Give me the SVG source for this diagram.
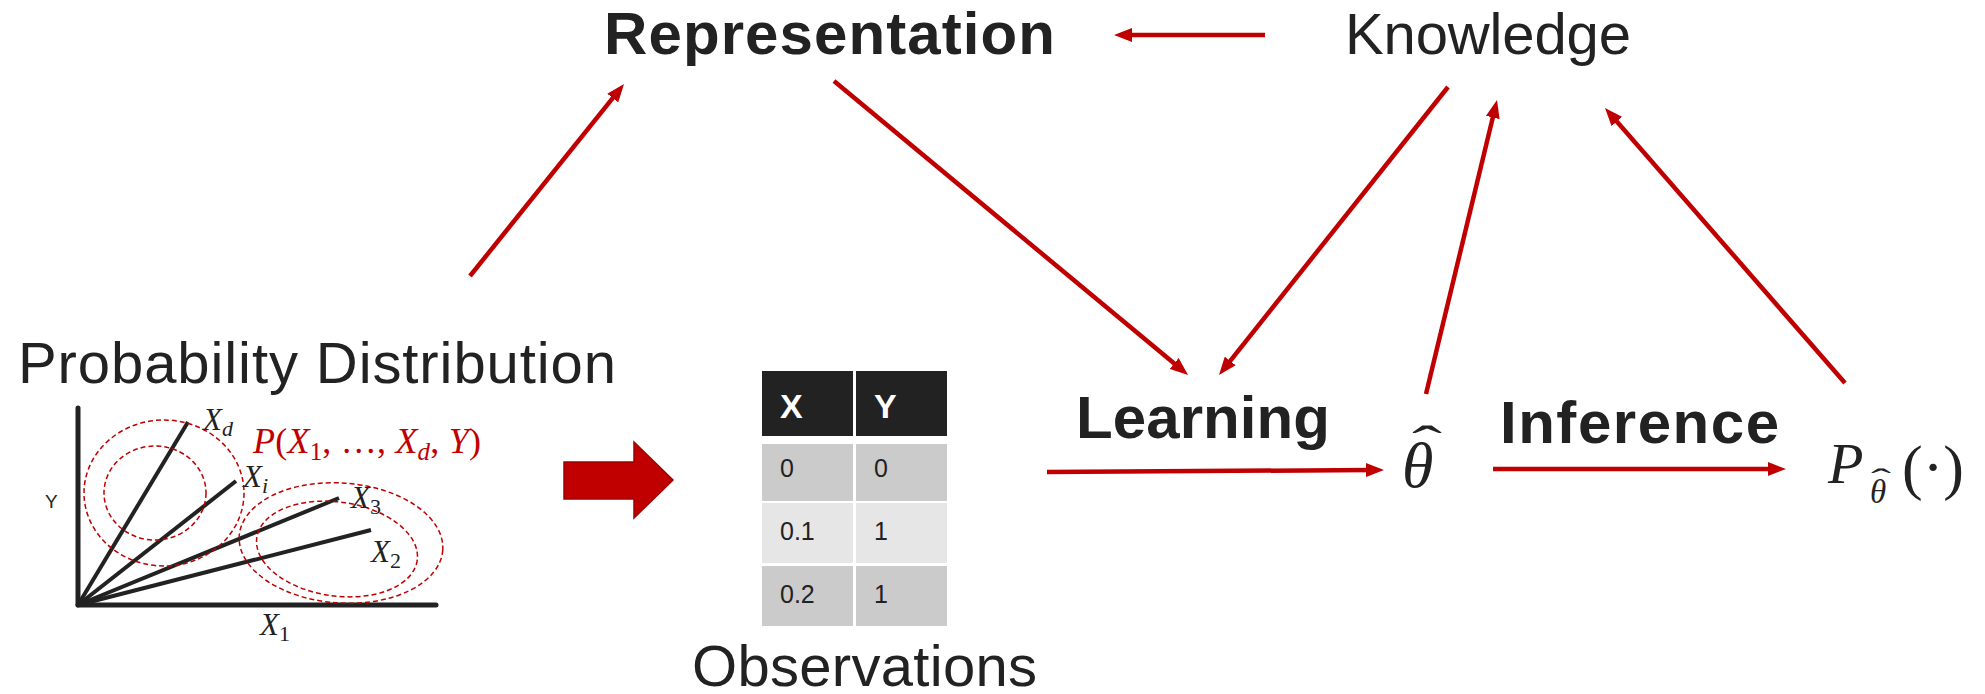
<svg xmlns="http://www.w3.org/2000/svg" width="1985" height="694" viewBox="0 0 1985 694">
<defs>
<style>
.lbl{font-family:"Liberation Sans","DejaVu Sans",sans-serif;fill:#222222}
.reg{font-size:58px}
.light{font-size:58px;font-weight:300}
.bold{font-size:60px;font-weight:bold}
.math{font-family:"Liberation Serif","DejaVu Serif",serif;font-style:italic;fill:#222222}
.up{font-style:normal}
.red{fill:#c00000}
.conn{stroke:#c00000;stroke-width:4.5;fill:none;marker-end:url(#ah)}
.axis{stroke:#222222;stroke-width:5;fill:none;stroke-linecap:round}
.ray{stroke:#222222;stroke-width:4;fill:none}
.dash{stroke:#c00000;stroke-width:1.5;fill:none;stroke-dasharray:5 3}
.cell{font-family:"Liberation Sans","DejaVu Sans",sans-serif;font-size:25px;fill:#222222}
.hdr{font-family:"Liberation Sans","DejaVu Sans",sans-serif;font-size:34px;font-weight:bold;fill:#ffffff}
</style>
<marker id="ah" markerUnits="userSpaceOnUse" markerWidth="18" markerHeight="14" refX="6" refY="7" orient="auto">
<path d="M0,0 L18,7 L0,14 z" fill="#c00000"/>
</marker>
</defs>

<g id="connectors">
<line class="conn" x1="470" y1="276" x2="616.5" y2="93.4"/>
<line class="conn" x1="834" y1="81" x2="1178.8" y2="367.3"/>
<line class="conn" x1="1448" y1="87" x2="1226.5" y2="365.6"/>
<line class="conn" x1="1426" y1="394" x2="1494.2" y2="111.7"/>
<line class="conn" x1="1845" y1="383" x2="1612.9" y2="117"/>
<line class="conn" x1="1265" y1="35" x2="1126" y2="35"/>
<line class="conn" x1="1047" y1="472" x2="1372" y2="470"/>
<line class="conn" x1="1493" y1="469" x2="1774" y2="469"/>
</g>

<g id="representation">
<text class="lbl bold" x="604" y="54" textLength="451">Representation</text>
</g>

<g id="knowledge">
<text class="lbl light" x="1345" y="54" textLength="286">Knowledge</text>
</g>

<g id="probability-distribution">
<text class="lbl reg" x="18" y="383" textLength="598">Probability Distribution</text>
<line class="axis" x1="78" y1="408" x2="78" y2="605"/>
<line class="axis" x1="78" y1="605" x2="436" y2="605"/>
<line class="ray" x1="78" y1="605" x2="188" y2="422"/>
<line class="ray" x1="78" y1="605" x2="236" y2="481"/>
<line class="ray" x1="78" y1="605" x2="339" y2="498"/>
<line class="ray" x1="78" y1="605" x2="371" y2="530"/>
<ellipse class="dash" cx="164" cy="493" rx="80" ry="73"/>
<ellipse class="dash" cx="155" cy="493" rx="51" ry="47"/>
<ellipse class="dash" cx="341" cy="543" rx="102" ry="60" transform="rotate(4 341 543)"/>
<ellipse class="dash" cx="337" cy="549" rx="81" ry="47" transform="rotate(8 337 549)"/>
<text class="lbl" x="45" y="508" font-size="19">Y</text>
<text class="math" x="203" y="430" font-size="31">X<tspan font-size="22" dy="6">d</tspan></text>
<text class="math" x="243" y="487" font-size="31">X<tspan font-size="22" dy="6">i</tspan></text>
<text class="math" x="351" y="508" font-size="31">X<tspan font-size="22" dy="6" class="up">3</tspan></text>
<text class="math" x="371" y="562" font-size="31">X<tspan font-size="22" dy="6" class="up">2</tspan></text>
<text class="math" x="260" y="635" font-size="31">X<tspan font-size="22" dy="6" class="up">1</tspan></text>
<text class="math red" x="253" y="453" font-size="36" textLength="228">P<tspan class="up">(</tspan>X<tspan font-size="25" dy="7" class="up">1</tspan><tspan dy="-7" class="up">, …, </tspan>X<tspan font-size="25" dy="7">d</tspan><tspan dy="-7" class="up">, </tspan>Y<tspan class="up">)</tspan></text>
</g>

<g id="block-arrow">
<polygon points="564,462 634,462 634,442 673,480 634,518 634,499 564,499" fill="#c00000" stroke="#a00000" stroke-width="1.5"/>
</g>

<g id="observations">
<rect x="762" y="371" width="91" height="65" fill="#222222"/>
<rect x="856" y="371" width="91" height="65" fill="#222222"/>
<rect x="762" y="444" width="91" height="57" fill="#cbcbcb"/>
<rect x="856" y="444" width="91" height="57" fill="#cbcbcb"/>
<rect x="762" y="503" width="91" height="60" fill="#e6e6e6"/>
<rect x="856" y="503" width="91" height="60" fill="#e6e6e6"/>
<rect x="762" y="566" width="91" height="60" fill="#cbcbcb"/>
<rect x="856" y="566" width="91" height="60" fill="#cbcbcb"/>
<text class="hdr" x="780" y="418">X</text>
<text class="hdr" x="874" y="418">Y</text>
<text class="cell" x="780" y="477">0</text>
<text class="cell" x="874" y="477">0</text>
<text class="cell" x="780" y="540">0.1</text>
<text class="cell" x="874" y="540">1</text>
<text class="cell" x="780" y="603">0.2</text>
<text class="cell" x="874" y="603">1</text>
<text class="lbl reg" x="692" y="686" textLength="345">Observations</text>
</g>

<g id="learning">
<text class="lbl bold" x="1076" y="438" textLength="254">Learning</text>
</g>

<g id="theta-hat">
<text class="math" x="1402" y="487" font-size="64">θ</text>
<text class="math up" x="0" y="0" font-size="50" text-anchor="middle" transform="translate(1427 461) scale(1.8 1)">ˆ</text>
</g>

<g id="inference">
<text class="lbl bold" x="1500" y="443" textLength="279">Inference</text>
</g>

<g id="p-theta-hat">
<text class="math" x="1828" y="483" font-size="58">P</text>
<text class="math" x="1870" y="503" font-size="33">θ</text>
<text class="math up" x="0" y="0" font-size="30" text-anchor="middle" transform="translate(1881 489) scale(2 1)">ˆ</text>
<text class="math up" x="1902" y="488" font-size="62">(·)</text>
</g>
</svg>
